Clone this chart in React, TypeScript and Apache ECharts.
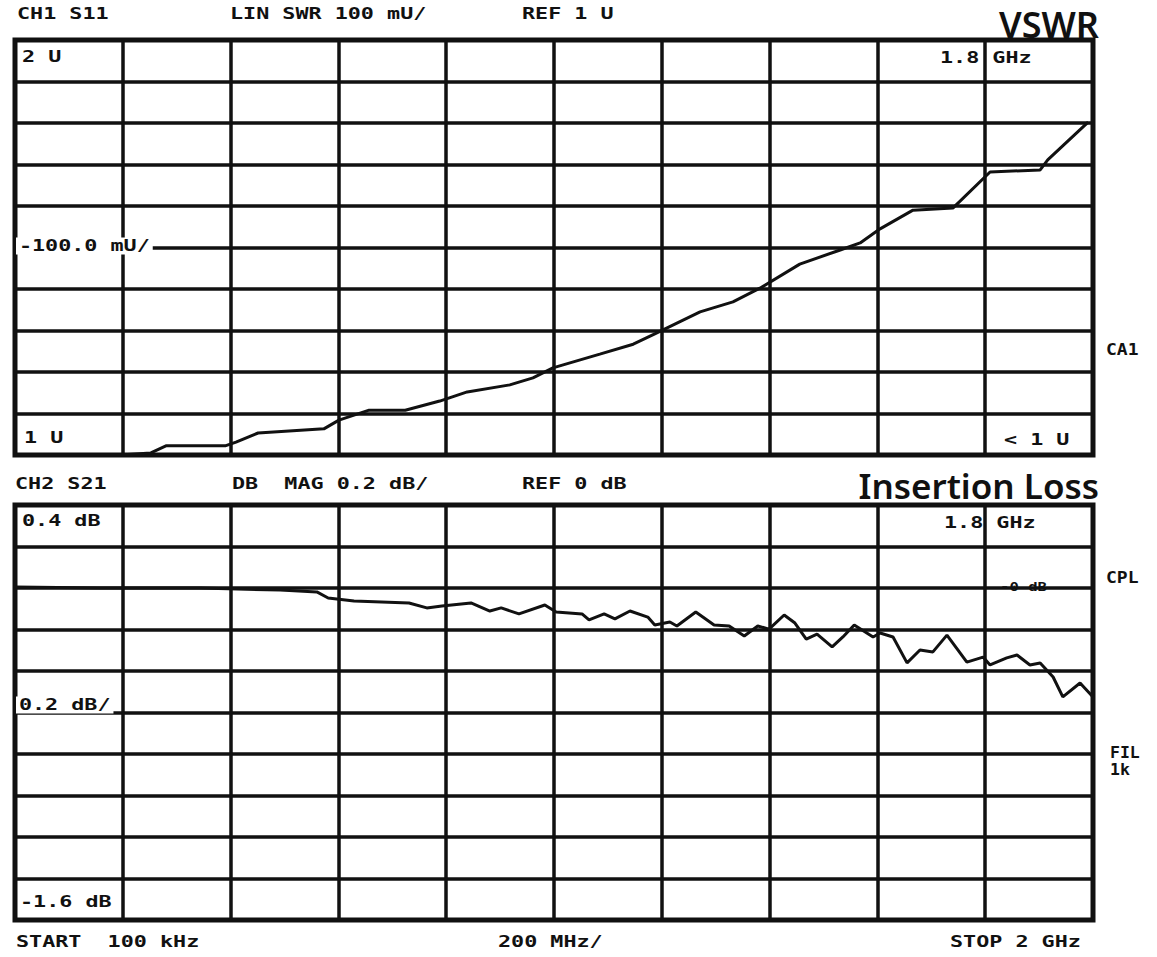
import { useEffect, useRef } from "react";
import * as echarts from "echarts";

// CH1 S11 – VSWR trace (frequency in GHz, VSWR in units)
const freqS11 = [0, 0.195, 0.252, 0.28, 0.39, 0.41, 0.451, 0.573, 0.601, 0.657, 0.724, 0.788, 0.839, 0.918, 0.961, 0.998, 1.085, 1.147, 1.187, 1.271, 1.332, 1.382, 1.456, 1.531, 1.568, 1.605, 1.666, 1.74, 1.809, 1.902, 1.916, 1.991];
const vswr = [1.0, 1.0, 1.005, 1.022, 1.022, 1.031, 1.053, 1.063, 1.084, 1.108, 1.108, 1.13, 1.152, 1.169, 1.186, 1.21, 1.243, 1.267, 1.292, 1.345, 1.369, 1.402, 1.46, 1.494, 1.511, 1.545, 1.59, 1.595, 1.682, 1.687, 1.711, 1.802];

// CH2 S21 – insertion loss trace (frequency in GHz, dB)
const freqS21 = [0, 0.158, 0.343, 0.492, 0.56, 0.581, 0.629, 0.731, 0.764, 0.792, 0.846, 0.881, 0.902, 0.935, 0.983, 1.004, 1.052, 1.065, 1.093, 1.113, 1.141, 1.174, 1.187, 1.215, 1.228, 1.263, 1.297, 1.325, 1.353, 1.378, 1.399, 1.427, 1.447, 1.468, 1.488, 1.516, 1.536, 1.557, 1.592, 1.605, 1.629, 1.655, 1.679, 1.703, 1.729, 1.766, 1.796, 1.809, 1.84, 1.859, 1.883, 1.902, 1.926, 1.944, 1.976, 2.0];
const lossDb = [0.005, 0, 0, -0.01, -0.019, -0.048, -0.063, -0.072, -0.096, -0.087, -0.072, -0.111, -0.096, -0.125, -0.082, -0.116, -0.125, -0.154, -0.125, -0.149, -0.111, -0.14, -0.178, -0.164, -0.183, -0.116, -0.178, -0.183, -0.231, -0.183, -0.198, -0.13, -0.169, -0.246, -0.222, -0.284, -0.236, -0.178, -0.236, -0.217, -0.236, -0.361, -0.299, -0.308, -0.227, -0.357, -0.333, -0.371, -0.337, -0.323, -0.371, -0.361, -0.429, -0.525, -0.458, -0.525];

// Axis scales
const xRange = [0, 2];
const xStep = 0.2;
const s11Range = [1, 2];
const s11Step = 0.1;
const s21Range = [-1.6, 0.4];
const s21Step = 0.2;

// Annotation texts
const s11Header = ["CH1 S11", "LIN SWR 100 mU/", "REF 1 U"];
const s21Header = ["CH2 S21", "DB  MAG 0.2 dB/", "REF 0 dB"];
const s11Labels = ["2 U", "-100.0 mU/", "1 U", "< 1 U", "1.8 GHz", "CA1"];
const s21Labels = ["0.4 dB", "0.2 dB/", "-1.6 dB", "1.8 GHz", "CPL", "-0 dB", "FIL", "1k"];
const footer = ["START  100 kHz", "200 MHz/", "STOP 2 GHz"];
const titles = ["VSWR", "Insertion Loss"];

const INK = "#111";
const MONO = "bold 15px 'DejaVu Sans Mono', monospace";

function lbl(text: string, x: number, y: number, extra: any = {}) {
  const { align = "left", bg, font = MONO, scaleX = 1.45 } = extra;
  return {
    type: "text",
    x,
    y,
    scaleX,
    z: 100,
    style: {
      text,
      font,
      fill: INK,
      align,
      verticalAlign: "middle",
      backgroundColor: bg,
      padding: bg ? [1, 2, 1, 2] : 0,
    },
  };
}

export default function App() {
  const ref = useRef<HTMLDivElement>(null);

  useEffect(() => {
    document.body.style.margin = "0";
    const chart = echarts.init(ref.current!, undefined, { renderer: "svg" });

    const splitLine = { show: true, lineStyle: { color: INK, width: 3.5 } };
    const xAxisBase = {
      type: "value",
      min: xRange[0],
      max: xRange[1],
      interval: xStep,
      axisLine: { show: false },
      axisTick: { show: false },
      axisLabel: { show: false },
      splitLine,
    };
    const yAxisBase = {
      type: "value",
      axisLine: { show: false },
      axisTick: { show: false },
      axisLabel: { show: false },
      splitLine,
    };

    const option: any = {
      animation: false,
      backgroundColor: "#fff",
      grid: [
        { left: 15, right: 64, top: 40, height: 415, show: true, borderColor: INK, borderWidth: 5, backgroundColor: "#fff" },
        { left: 15, right: 64, top: 505, height: 415, show: true, borderColor: INK, borderWidth: 5, backgroundColor: "#fff" },
      ],
      xAxis: [
        { ...xAxisBase, gridIndex: 0 },
        { ...xAxisBase, gridIndex: 1 },
      ],
      yAxis: [
        { ...yAxisBase, gridIndex: 0, min: s11Range[0], max: s11Range[1], interval: s11Step },
        { ...yAxisBase, gridIndex: 1, min: s21Range[0], max: s21Range[1], interval: s21Step },
      ],
      series: [
        {
          type: "line",
          xAxisIndex: 0,
          yAxisIndex: 0,
          showSymbol: false,
          lineStyle: { color: INK, width: 3 },
          data: freqS11.map((f, i) => [f, vswr[i]]),
          z: 10,
        },
        {
          type: "line",
          xAxisIndex: 1,
          yAxisIndex: 1,
          showSymbol: false,
          lineStyle: { color: INK, width: 3 },
          data: freqS21.map((f, i) => [f, lossDb[i]]),
          z: 10,
        },
      ],
      graphic: [
        lbl(s11Header[0], 17, 14),
        lbl(s11Header[1], 230, 14),
        lbl(s11Header[2], 522, 14),
        {
          type: "text",
          x: 1099,
          y: 24,
          z: 100,
          style: { text: titles[0], font: "600 36px 'Noto Sans', sans-serif", fill: INK, align: "right", verticalAlign: "middle" },
        },
        lbl(s11Labels[0], 22, 57),
        lbl(s11Labels[1], 16, 246, { bg: "#fff" }),
        lbl(s11Labels[2], 24, 438),
        lbl(s11Labels[3], 1004, 440),
        lbl(s11Labels[4], 940, 58),
        lbl(s11Labels[5], 1106, 350, { scaleX: 1.2 }),

        lbl(s21Header[0], 15, 484),
        lbl(s21Header[1], 232, 484),
        lbl(s21Header[2], 522, 484),
        {
          type: "text",
          x: 1099,
          y: 485,
          z: 100,
          style: { text: titles[1], font: "600 35px 'Noto Sans', sans-serif", fill: INK, align: "right", verticalAlign: "middle" },
        },
        lbl(s21Labels[0], 22, 521),
        lbl(s21Labels[1], 16, 705, { bg: "#fff" }),
        lbl(s21Labels[2], 20, 902),
        lbl(s21Labels[3], 944, 523),
        lbl(s21Labels[4], 1106, 578, { scaleX: 1.2 }),
        lbl(s21Labels[5], 1000, 587, { font: "bold 12px 'DejaVu Sans Mono', monospace", scaleX: 1.3 }),
        lbl(s21Labels[6], 1110, 753, { scaleX: 1.1 }),
        lbl(s21Labels[7], 1110, 770, { scaleX: 1.1 }),

        lbl(footer[0], 16, 942),
        lbl(footer[1], 498, 942),
        lbl(footer[2], 950, 942),
      ],
    };

    chart.setOption(option);
    return () => chart.dispose();
  }, []);

  return <div ref={ref} style={{ width: 1157, height: 957, background: "#fff" }} />;
}
